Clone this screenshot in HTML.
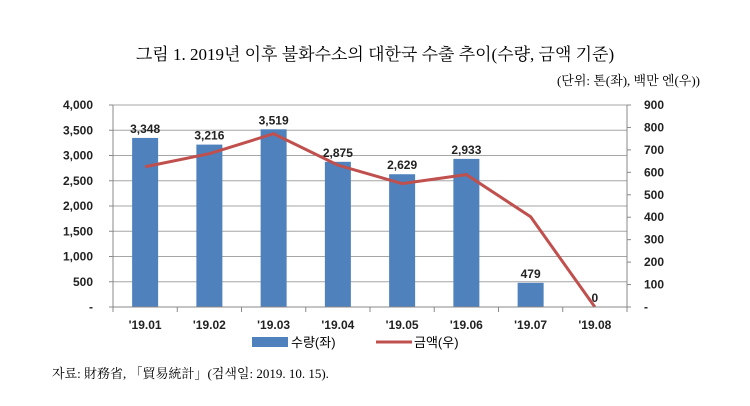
<!DOCTYPE html>
<html><head><meta charset="utf-8"><style>
body{margin:0;background:#fff;width:750px;height:401px;overflow:hidden}
text{font-family:"Liberation Sans","Noto Sans CJK KR",sans-serif}
</style></head><body>
<svg id="chart" width="750" height="401" xmlns="http://www.w3.org/2000/svg">
<text x="375" y="60" text-anchor="middle" font-size="17" style="font-family:'Liberation Serif','Noto Serif CJK SC',serif" fill="#000">그림 1. 2019년 이후 불화수소의 대한국 수출 추이(수량, 금액 기준)</text>
<text x="700" y="85" text-anchor="end" font-size="13" style="font-family:'Liberation Serif','Noto Serif CJK SC',serif">(단위: 톤(좌), 백만 엔(우))</text>
<g id="grid"></g><g id="bars"></g><g id="line"></g><g id="axes"></g>
<g>
<rect x="252" y="337" width="36" height="10" fill="#4f81bd"/>
<text x="291" y="347" font-size="13">수량(좌)</text>
<line x1="376" y1="342" x2="412" y2="342" stroke="#c0504d" stroke-width="3"/>
<text x="414" y="347" font-size="13">금액(우)</text>
</g>
<text x="52" y="378" font-size="13" style="font-family:'Liberation Serif','Noto Serif CJK SC',serif">자료: 財務省, 「貿易統計」(검색일: 2019. 10. 15).</text>
</svg>
<script>
const categories=["'19.01","'19.02","'19.03","'19.04","'19.05","'19.06","'19.07","'19.08"];
const quantity=[3348,3216,3519,2875,2629,2933,479,0];
const value=[625,683,772,632,550,590,402,0];
const leftTicks=["-","500","1,000","1,500","2,000","2,500","3,000","3,500","4,000"];
const rightTicks=["-","100","200","300","400","500","600","700","800","900"];
const NS="http://www.w3.org/2000/svg";
const X0=113,X1=627,Y0=307,Y1=105,LMAX=4000,RMAX=900;
const bw=(X1-X0)/categories.length;
const xc=i=>X0+bw*(i+0.5);
const yl=v=>Y0-(v/LMAX)*(Y0-Y1);
const yr=v=>Y0-(v/RMAX)*(Y0-Y1);
function mk(tag,attrs,parent,txt){const e=document.createElementNS(NS,tag);for(const k in attrs)e.setAttribute(k,attrs[k]);if(txt!==undefined)e.textContent=txt;document.getElementById(parent).appendChild(e);return e;}
leftTicks.forEach((t,i)=>{const y=yl(i*500);
 if(i>0){const g=mk('line',{x1:X0,x2:X1,y1:y,y2:y,stroke:'#a6a6a6','stroke-width':1},'grid');}
 const tk=mk('line',{x1:X0-4,x2:X0,y1:y,y2:y,stroke:'#888'},'axes');
 const l=mk('text',{x:X0-20,y:y+4,'text-anchor':'end','font-size':12,'font-weight':'bold',fill:'#222'},'axes',t);});
rightTicks.forEach((t,i)=>{const y=yr(i*100);
 const tk=mk('line',{x1:X1,x2:X1+4,y1:y,y2:y,stroke:'#888'},'axes');
 const l=mk('text',{x:X1+17,y:y+4,'font-size':12,'font-weight':'bold',fill:'#222'},'axes',t);});
let a=mk('line',{x1:X0,x2:X0,y1:Y1,y2:Y0,stroke:'#888'},'axes');
a=mk('line',{x1:X1,x2:X1,y1:Y1,y2:Y0,stroke:'#888'},'axes');
a=mk('line',{x1:X0,x2:X1,y1:Y0,y2:Y0,stroke:'#888'},'axes');
for(let i=0;i<=categories.length;i++){const x=X0+bw*i;const t=mk('line',{x1:x,x2:x,y1:Y0,y2:Y0+5,stroke:'#888'},'axes');}
categories.forEach((c,i)=>{const l=mk('text',{x:xc(i),y:Y0+22,'text-anchor':'middle','font-size':12,'font-weight':'bold',fill:'#222'},'axes',c);});
quantity.forEach((v,i)=>{const y=yl(v);
 if(v>0){const r=mk('rect',{x:xc(i)-13,y:y,width:26,height:Y0-y,fill:'#4f81bd'},'bars');}
 const l=mk('text',{x:xc(i),y:y-5,'text-anchor':'middle','font-size':12,'font-weight':'bold',fill:'#222'},'bars',v.toLocaleString('en-US'));});
const p=mk('polyline',{points:value.map((v,i)=>xc(i)+','+yr(v)).join(' '),fill:'none',stroke:'#c0504d','stroke-width':3},'line');


</script>
</body></html>
